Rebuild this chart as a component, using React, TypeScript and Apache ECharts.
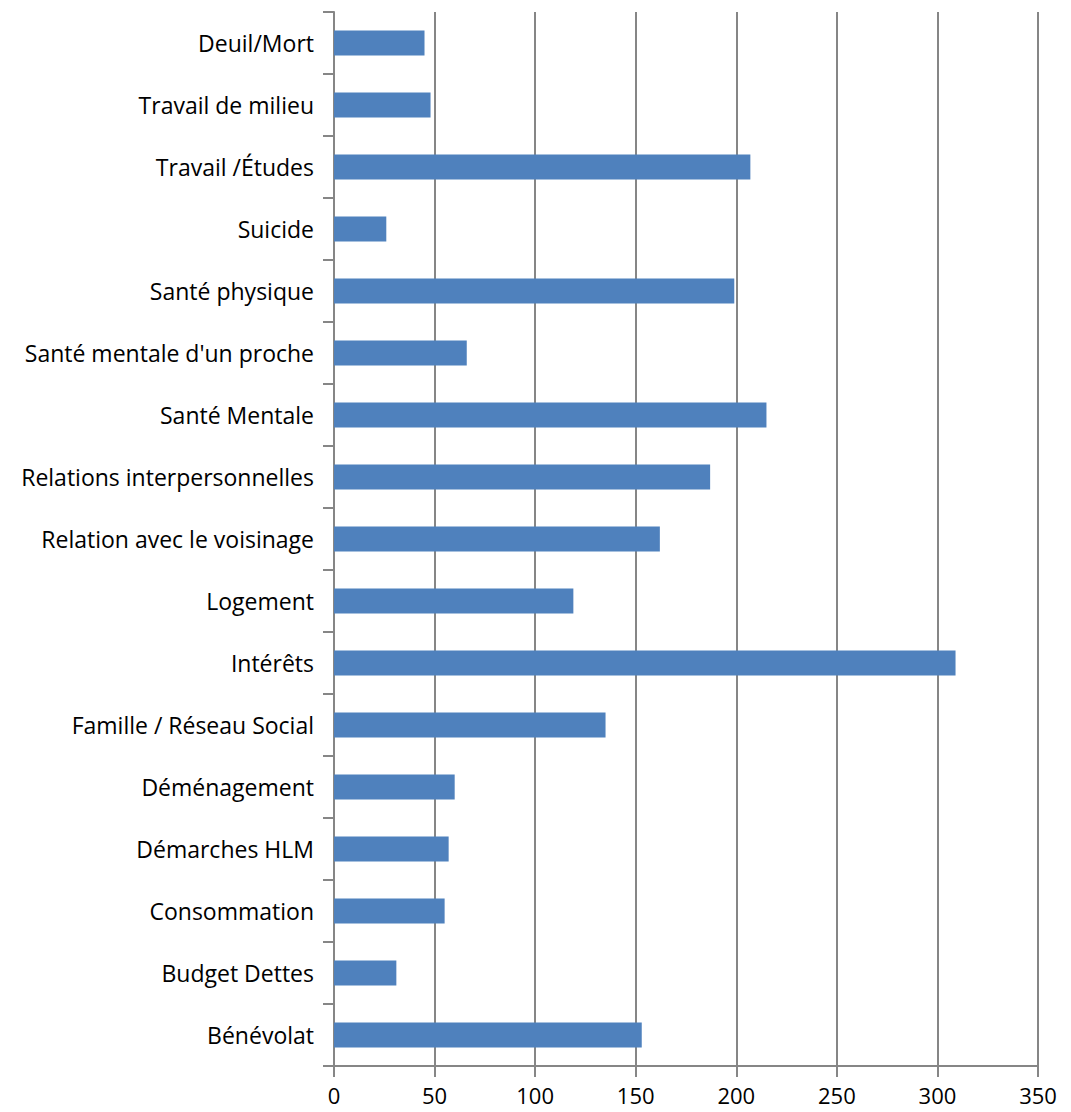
import React, { useEffect, useRef } from "react";
import * as echarts from "echarts";

const categories = [
  "Bénévolat",
  "Budget Dettes",
  "Consommation",
  "Démarches HLM",
  "Déménagement",
  "Famille / Réseau Social",
  "Intérêts",
  "Logement",
  "Relation avec le voisinage",
  "Relations interpersonnelles",
  "Santé Mentale",
  "Santé mentale d'un proche",
  "Santé physique",
  "Suicide",
  "Travail /Études",
  "Travail de milieu",
  "Deuil/Mort",
];

const values = [153, 31, 55, 57, 60, 135, 309, 119, 162, 187, 215, 66, 199, 26, 207, 48, 45];

const xMin = 0;
const xMax = 350;
const xStep = 50;

const FONT = "'Open Sans', sans-serif";

export default function App() {
  const ref = useRef<HTMLDivElement>(null);
  useEffect(() => {
    if (!ref.current) return;
    const chart = echarts.init(ref.current, undefined, { renderer: "svg" });
    chart.setOption({
      animation: false,
      backgroundColor: "#ffffff",
      grid: { left: 334, right: 33, top: 12, bottom: 46, containLabel: false },
      xAxis: {
        type: "value",
        min: xMin,
        max: xMax,
        interval: xStep,
        axisLine: { show: true, lineStyle: { color: "#868686", width: 2 } },
        axisTick: { show: true, length: 11, lineStyle: { color: "#868686", width: 2 } },
        splitLine: { show: true, lineStyle: { color: "#868686", width: 2 } },
        axisLabel: {
          color: "#000000",
          fontSize: 22,
          lineHeight: 22,
          fontFamily: FONT,
          margin: 18,
        },
      },
      yAxis: {
        type: "category",
        data: categories,
        axisLine: { show: true, lineStyle: { color: "#868686", width: 2 } },
        axisTick: { show: true, length: 11, lineStyle: { color: "#868686", width: 2 } },
        axisLabel: { color: "#000000", fontSize: 23, fontFamily: FONT, margin: 20 },
        splitLine: { show: false },
      },
      series: [
        {
          type: "bar",
          data: values,
          barWidth: 25,
          itemStyle: { color: "#4F81BD" },
        },
      ],
    });
    return () => chart.dispose();
  }, []);
  return (
    <div
      ref={ref}
      style={{ position: "fixed", left: 0, top: 0, width: 1071, height: 1112 }}
    />
  );
}
